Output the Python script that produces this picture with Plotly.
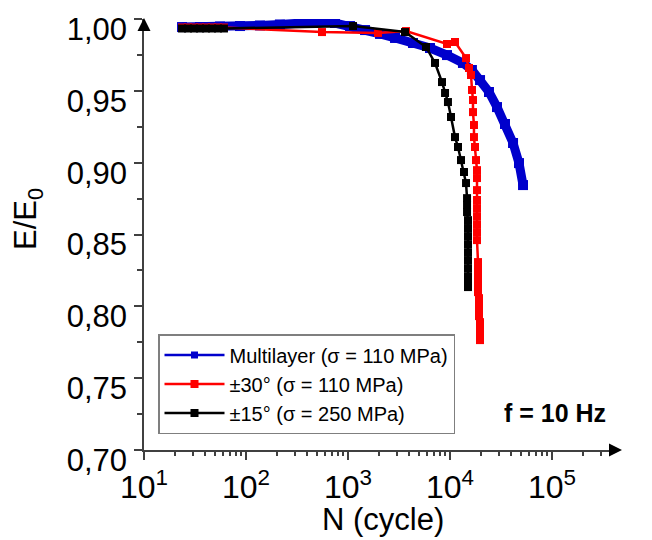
import plotly.graph_objects as go

# ---------------- data ----------------
# Multilayer (sigma = 110 MPa)
n_multi = [23.6, 35.4, 55.6, 87.3, 137, 215, 338, 497, 746, 1047, 1469, 2061,
           2891, 4340, 6365, 9350, 13400, 16400, 19700, 24100, 28900, 34600,
           41500, 47500, 52000]
e_multi = [0.9944, 0.9944, 0.9948, 0.9951, 0.9955, 0.9962, 0.9972, 0.9979,
           0.9972, 0.9951, 0.9923, 0.9896, 0.9868, 0.9833, 0.9798, 0.9749,
           0.9694, 0.9645, 0.9575, 0.9492, 0.9387, 0.9269, 0.9137, 0.8997,
           0.8844]

# +-30 deg (sigma = 110 MPa)
n_30 = [23.6, 27.0, 30.9, 35.4, 40.5, 46.4, 53.1, 60.8, 556, 1968, 3706, 9350,
        11190, 14360, 15360, 16070, 16440, 16800, 16800, 17180, 17180, 17580,
        17990, 18400, 18400, 18400, 18400, 18400, 18400, 18400, 18400, 18400,
        18820, 18820, 18820, 18820, 18820, 18820, 19240, 19240, 19240, 19240,
        19690, 19690, 19690, 19690]
e_30 = [0.9941, 0.9941, 0.9941, 0.9941, 0.9941, 0.9941, 0.9941, 0.9941,
        0.9909, 0.9903, 0.9916, 0.9826, 0.9840, 0.9728, 0.9659, 0.9610,
        0.9506, 0.9436, 0.9352, 0.9262, 0.9178, 0.9109, 0.9018, 0.8948,
        0.8893, 0.8809, 0.8740, 0.8684, 0.8628, 0.8572, 0.8517, 0.8461,
        0.8308, 0.8266, 0.8224, 0.8182, 0.8141, 0.8099, 0.8057, 0.8015,
        0.7974, 0.7932, 0.7890, 0.7848, 0.7806, 0.7765]

# +-15 deg (sigma = 250 MPa)
n_15 = [23.6, 27.0, 30.9, 35.4, 40.5, 46.4, 53.1, 60.8, 1119, 3622, 5820, 7130,
        8350, 8940, 9550, 10230, 11190, 11980, 12820, 13710, 14360, 14690,
        14690, 14690, 15010, 15010, 15010, 15010, 15010, 15010, 15010, 15010,
        15010, 15010]
e_15 = [0.9934, 0.9934, 0.9934, 0.9934, 0.9934, 0.9934, 0.9934, 0.9934, 0.9951,
        0.9909, 0.9805, 0.9694, 0.9561, 0.9485, 0.9422, 0.9318, 0.9178, 0.9109,
        0.9018, 0.8935, 0.8858, 0.8753, 0.8705, 0.8656, 0.8600, 0.8545, 0.8489,
        0.8433, 0.8377, 0.8322, 0.8266, 0.8210, 0.8162, 0.8134]

series_names = ["Multilayer (σ = 110 MPa)", "±30° (σ = 110 MPa)", "±15° (σ = 250 MPa)"]
series_colors = ["#0000cc", "#ff0000", "#000000"]

x_tick_vals = [10, 100, 1000, 10000, 100000]
x_tick_text = ["10<sup>1</sup>", "10<sup>2</sup>", "10<sup>3</sup>", "10<sup>4</sup>", "10<sup>5</sup>"]
x_minor_vals = [m * d for d in [10, 100, 1000, 10000, 100000] for m in range(2, 10)]
y_tick_vals = [0.70, 0.75, 0.80, 0.85, 0.90, 0.95, 1.00]
y_tick_text = ["0,70", "0,75", "0,80", "0,85", "0,90", "0,95", "1,00"]
y_minor_vals = [0.725, 0.775, 0.825, 0.875, 0.925, 0.975]

# ---------------- figure ----------------
FONT = "Arial, Liberation Sans, sans-serif"
AX = "#404040"
OFF = 8                       # page body margin
W, H = 652 - OFF, 540 - OFF
PL, PR, PT, PB = 144, 612, 19, 460   # plot box in page pixels
ML, MR, MT, MB = PL - OFF, 652 - PR, PT - OFF, 540 - PB
PW, PH = PR - PL, PB - PT
SHIFT = 10 / PH  # vertical offset of y tick labels


def px(x):
    return (x - PL) / PW


def py(y):
    return (PB - y) / PH


fig = go.Figure()

# Multilayer band (thick, many overlapping markers)
fig.add_trace(go.Scatter(
    x=n_multi, y=e_multi, mode="lines+markers", showlegend=False,
    line=dict(color=series_colors[0], width=9),
    marker=dict(symbol="square", size=10, color=series_colors[0]),
    hoverinfo="skip"))
# legend entry for multilayer
fig.add_trace(go.Scatter(
    x=[None], y=[None], mode="lines+markers", name=series_names[0],
    legendgroup="a",
    line=dict(color=series_colors[0], width=2.5),
    marker=dict(symbol="square", size=7, color=series_colors[0])))
fig.add_trace(go.Scatter(
    x=n_30, y=e_30, mode="lines+markers", name=series_names[1], legendgroup="b",
    line=dict(color=series_colors[1], width=2.5),
    marker=dict(symbol="square", size=8, color=series_colors[1])))
fig.add_trace(go.Scatter(
    x=n_15, y=e_15, mode="lines+markers", name=series_names[2], legendgroup="c",
    line=dict(color=series_colors[2], width=2.5),
    marker=dict(symbol="square", size=8, color=series_colors[2])))
# dummy trace to host the label axis
fig.add_trace(go.Scatter(x=[None], y=[None], yaxis="y2", showlegend=False,
                         hoverinfo="skip"))

fig.update_layout(
    width=W, height=H,
    margin=dict(l=ML, r=MR, t=MT, b=MB, pad=0, autoexpand=False),
    paper_bgcolor="white", plot_bgcolor="rgba(0,0,0,0)",
    font=dict(family=FONT, color="black"),
    xaxis=dict(
        type="log", range=[1, 1 + PW / 102], anchor="y", automargin=False,
        showline=True, linewidth=2, linecolor=AX,
        ticks="outside", ticklen=8, tickwidth=2, tickcolor=AX,
        tickmode="array", tickvals=x_tick_vals, ticktext=x_tick_text,
        tickfont=dict(size=32, color="black"),
        minor=dict(tickmode="array", tickvals=x_minor_vals, ticks="outside",
                   ticklen=4, tickwidth=1.5, tickcolor=AX),
        showgrid=False, zeroline=False),
    yaxis=dict(
        range=[0.70, 1.00], domain=[SHIFT, 1], anchor="x", automargin=False,
        showline=True, linewidth=2, linecolor=AX,
        ticks="outside", ticklen=8, tickwidth=2, tickcolor=AX,
        tickmode="array", tickvals=y_tick_vals, showticklabels=False,
        minor=dict(tickmode="array", tickvals=y_minor_vals, ticks="outside",
                   ticklen=5, tickwidth=1.5, tickcolor=AX),
        showgrid=False, zeroline=False),
    yaxis2=dict(
        range=[0.70, 1.00], domain=[0, 1 - SHIFT], anchor="x", automargin=False,
        showline=False, ticks="", showgrid=False, zeroline=False,
        tickmode="array", tickvals=y_tick_vals, ticktext=y_tick_text,
        tickfont=dict(size=31, color="black"), ticklabelstandoff=16),
    legend=dict(
        x=px(158), y=py(334), xanchor="left", yanchor="top",
        bordercolor="#7f7f7f", borderwidth=1.5, bgcolor="white",
        font=dict(size=20, color="black"), tracegroupgap=0, itemwidth=60),
    annotations=[
        dict(text="E/E<sub>0</sub>", textangle=-90, xref="paper", yref="paper",
             x=px(28), y=py(219), showarrow=False,
             xanchor="center", yanchor="middle", font=dict(size=31)),
        dict(text="N (cycle)", xref="paper", yref="paper",
             x=px(383), y=py(519), showarrow=False,
             xanchor="center", yanchor="middle", font=dict(size=31)),
        dict(text="<b>f = 10 Hz</b>", xref="paper", yref="paper",
             x=px(555), y=py(413), showarrow=False,
             xanchor="center", yanchor="middle", font=dict(size=25)),
        # axis arrowheads
        dict(xref="paper", yref="paper", x=0, y=py(18), ax=0, ay=14,
             showarrow=True, arrowhead=2, arrowsize=1.3, arrowwidth=2,
             arrowcolor="black", text=""),
        dict(xref="paper", yref="paper", x=px(622), y=SHIFT,
             ax=-14, ay=0, showarrow=True, arrowhead=2, arrowsize=1.3,
             arrowwidth=2, arrowcolor="black", text=""),
    ],
)

fig.write_html("out.html")
